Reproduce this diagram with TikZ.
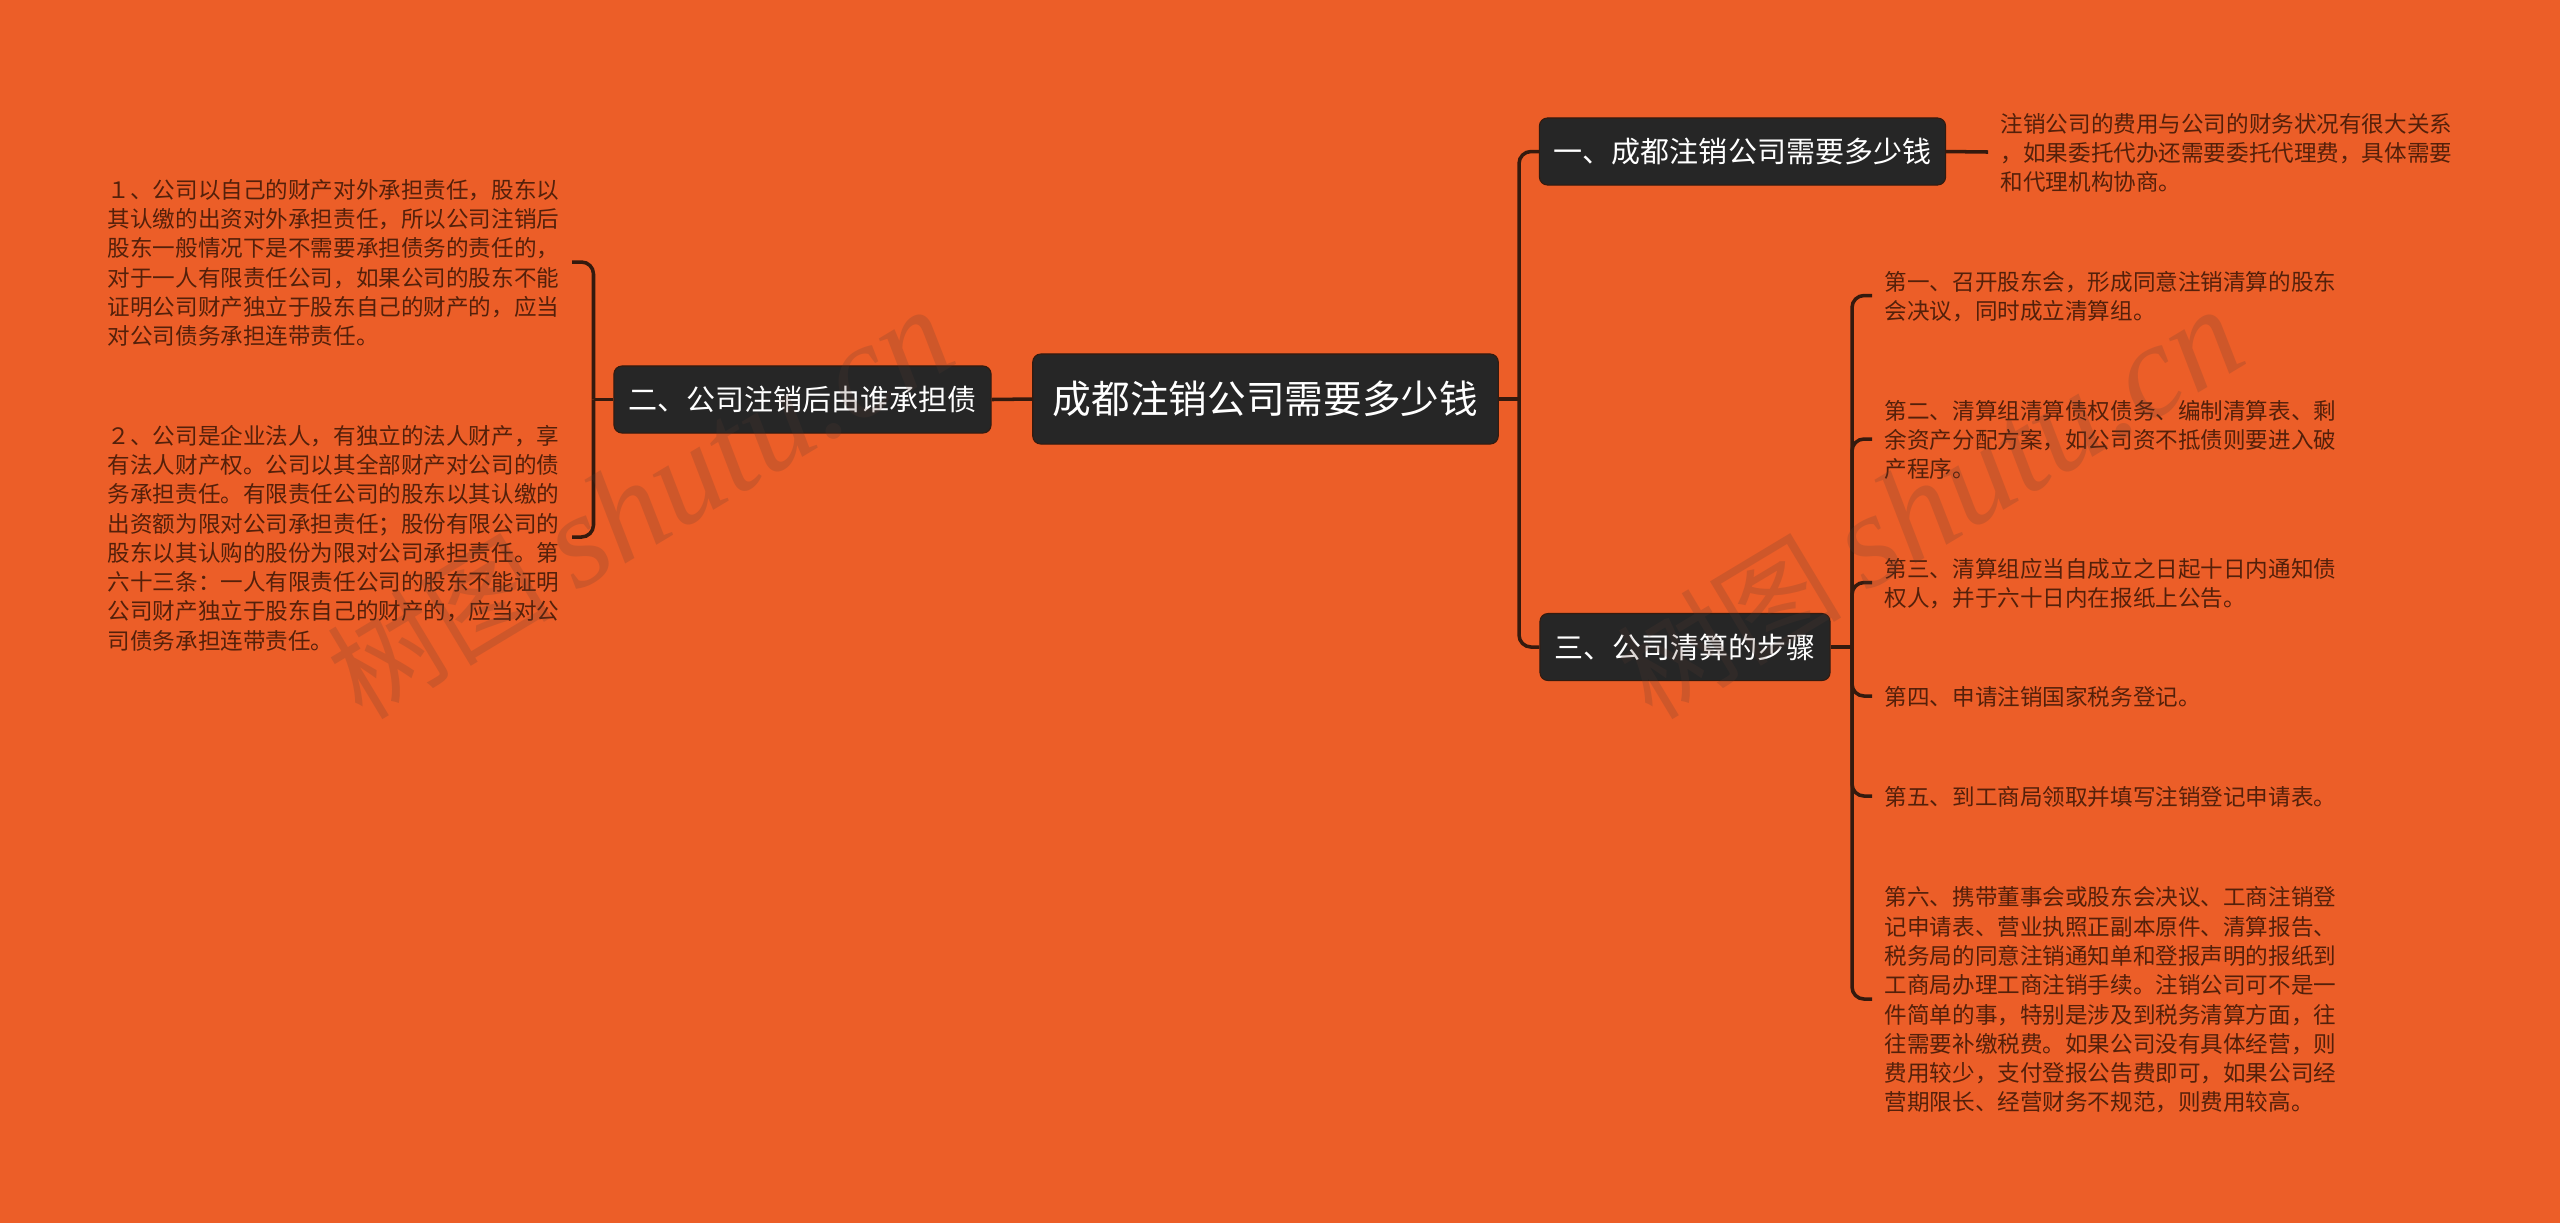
\documentclass[tikz,border=0pt]{standalone}
\usepackage{tikz}
\usepackage{fontspec}
\setmainfont{Noto Sans CJK SC}
\newfontfamily\markfont{Liberation Serif}
\definecolor{pagecol}{RGB}{236,94,40}
\definecolor{boxcol}{RGB}{38,38,38}
\definecolor{linecol}{RGB}{52,26,14}
\definecolor{notecol}{RGB}{84,32,10}
\definecolor{markcol}{RGB}{90,60,50}
\tikzset{
    titlebox/.style={fill=boxcol, draw=linecol, line width=0.3pt, rounded corners=0.08cm, text=white, inner sep=0pt},
    topicbox/.style={titlebox, minimum height=0.67cm, inner xsep=0.145cm, font=\fontsize{8.25}{10}\selectfont},
    notetext/.style={text=notecol, align=left, inner ysep=0pt, font=\fontsize{6.42}{8.33}\selectfont},
    rightnote/.style={notetext, anchor=west, inner xsep=0.12cm},
    leftnote/.style={notetext, anchor=east, inner xsep=0.12cm},
    link/.style={draw=linecol, line width=1pt},
    bendlink/.style={link, rounded corners=0.12cm},
    watermark/.style={text=markcol, opacity=0.2, rotate=31, font=\fontsize{32}{40}\selectfont}
}
\begin{document}
\begin{tikzpicture}[x=0.01cm,y=-0.01cm]
        \useasboundingbox[fill=pagecol] (0,0) rectangle (2560,1223);

        % boxes
            \node[titlebox, minimum height=0.9cm, inner xsep=0.2cm, font=\fontsize{11}{13}\selectfont] (root) at (1265.5,399) {成都注销公司需要多少钱};
            \node[topicbox] (topicOne) at (1742.5,151.5) {一、成都注销公司需要多少钱};
            \node[topicbox] (topicTwo) at (802.5,399.5) {二、公司注销后由谁承担债};
            \node[topicbox] (topicThree) at (1685,647) {三、公司清算的步骤};

        % right notes
            \node[rightnote] (noteCost) at (1988,153) {注销公司的费用与公司的财务状况有很大关系\\，如果委托代办还需要委托代理费，具体需要\\和代理机构协商。};
            \node[rightnote] (stepOne) at (1872,296.5) {第一、召开股东会，形成同意注销清算的股东\\会决议，同时成立清算组。};
            \node[rightnote] (stepTwo) at (1872,440) {第二、清算组清算债权债务、编制清算表、剩\\余资产分配方案，如公司资不抵债则要进入破\\产程序。};
            \node[rightnote] (stepThree) at (1872,583.5) {第三、清算组应当自成立之日起十日内通知债\\权人，并于六十日内在报纸上公告。};
            \node[rightnote] (stepFour) at (1872,697) {第四、申请注销国家税务登记。};
            \node[rightnote] (stepFive) at (1872,797) {第五、到工商局领取并填写注销登记申请表。};
            \node[rightnote] (stepSix) at (1872,1000) {第六、携带董事会或股东会决议、工商注销登\\记申请表、营业执照正副本原件、清算报告、\\税务局的同意注销通知单和登报声明的报纸到\\工商局办理工商注销手续。注销公司可不是一\\件简单的事，特别是涉及到税务清算方面，往\\往需要补缴税费。如果公司没有具体经营，则\\费用较少，支付登报公告费即可，如果公司经\\营期限长、经营财务不规范，则费用较高。};

        % left notes
            \node[leftnote] (dutyOne) at (572,263) {１、公司以自己的财产对外承担责任，股东以\\其认缴的出资对外承担责任，所以公司注销后\\股东一般情况下是不需要承担债务的责任的，\\对于一人有限责任公司，如果公司的股东不能\\证明公司财产独立于股东自己的财产的，应当\\对公司债务承担连带责任。};
            \node[leftnote] (dutyTwo) at (572,538) {２、公司是企业法人，有独立的法人财产，享\\有法人财产权。公司以其全部财产对公司的债\\务承担责任。有限责任公司的股东以其认缴的\\出资额为限对公司承担责任；股份有限公司的\\股东以其认购的股份为限对公司承担责任。第\\六十三条：一人有限责任公司的股东不能证明\\公司财产独立于股东自己的财产的，应当对公\\司债务承担连带责任。};

        % joins
            \coordinate (rootJoin) at (1519,399);
            \coordinate (stepJoin) at (1852,647);
            \coordinate (dutyJoin) at (593.5,399.5);

        % connectors
            \draw[link] (root.east) -- (rootJoin);
            \draw[bendlink] (rootJoin) |- (topicOne.west);
            \draw[bendlink] (rootJoin) |- (topicThree.west);
            \draw[link] (root.west) -- (topicTwo.east);
            \draw[link] (topicOne.east) -- ([yshift=0.01cm]noteCost.west);
            \draw[link] (topicTwo.west) -- (dutyJoin);
            \draw[bendlink] (dutyJoin) |- ([yshift=0.01cm]dutyOne.east);
            \draw[bendlink] (dutyJoin) |- ([yshift=0.01cm]dutyTwo.east);
            \draw[link] (topicThree.east) -- (stepJoin);
            \foreach \leaf in {stepOne,stepTwo,stepThree,stepFour,stepFive,stepSix}
                \draw[bendlink] (stepJoin) |- ([yshift=0.01cm]\leaf.west);

        % watermarks
            \node[watermark] (markLeft) at (640,505) {树图 {\markfont\itshape\fontsize{38}{40}\selectfont shutu.cn}};
            \node[watermark] (markRight) at (1930,505) {树图 {\markfont\itshape\fontsize{38}{40}\selectfont shutu.cn}};
        \end{tikzpicture}
\end{document}
